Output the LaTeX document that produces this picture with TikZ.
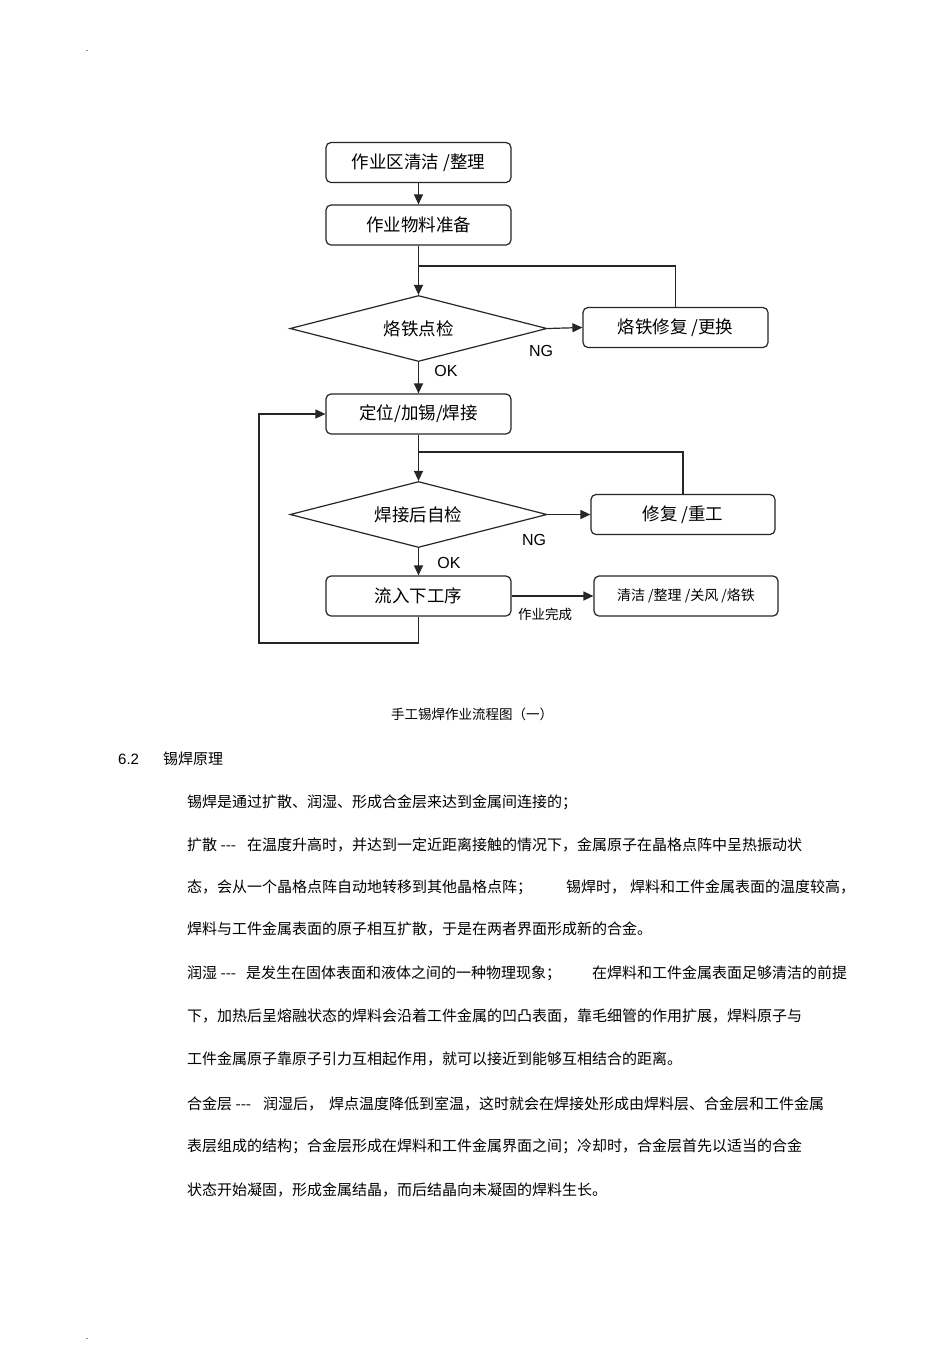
\documentclass[tikz,border=0pt]{standalone}
\usepackage{fontspec}
\setmainfont{Liberation Sans}
\newfontfamily\cjk{Noto Sans CJK SC}
\usetikzlibrary{arrows.meta,shapes.geometric}
\begin{document}
\begin{tikzpicture}[x=1pt,y=-1pt,
  box/.style={draw=black!85, line width=1.2pt, rounded corners=5pt, minimum width=185pt, minimum height=40pt, inner sep=0pt, font=\cjk\fontsize{17.5}{18}\selectfont},
  dia/.style={draw=black!85, line width=1.2pt, diamond, aspect=3.9, minimum width=257pt, minimum height=66pt, inner sep=0pt, font=\cjk\fontsize{17.5}{18}\selectfont},
  conn/.style={line width=1.2pt, draw=black!85},
  arr/.style={conn, -{Triangle[length=10pt,width=9pt]}},
  lbl/.style={inner sep=0pt, font=\fontsize{16}{16}\selectfont},
  small/.style={inner sep=0pt, font=\cjk\fontsize{13.5}{14}\selectfont},
  body/.style={anchor=west, inner sep=0pt, font=\cjk\fontsize{15}{15}\selectfont},
]
\useasboundingbox (0,0) rectangle (950,1345);
\fill[white] (0,0) rectangle (950,1345);
\node[inner sep=0pt, font=\fontsize{9}{9}\selectfont] (dot1) at (87,51) {.};
\node[inner sep=0pt, font=\fontsize{9}{9}\selectfont] (dot2) at (87,1339) {.};

% flowchart
\node[box] (b1) at (418.5,162.5) {作业区清洁 /整理};
\node[box] (b2) at (418.5,225) {作业物料准备};
\node[dia] (d1) at (418.5,328.5) {烙铁点检};
\node[box] (b3) at (675.5,327.5) {烙铁修复 /更换};
\node[box] (b4) at (418.5,414) {定位/加锡/焊接};
\node[dia] (d2) at (418.5,514.5) {焊接后自检};
\node[box, minimum width=184pt] (b5) at (683,514.5) {修复 /重工};
\node[box] (b6) at (418.5,596) {流入下工序};
\node[box, minimum width=184pt, font=\cjk\fontsize{14}{14}\selectfont] (b7) at (686,596) {清洁 /整理 /关风 /烙铁};

\node[lbl] (ng1) at (541,351) {NG};
\node[lbl] (ok1) at (446,371) {OK};
\node[lbl] (ng2) at (534,540) {NG};
\node[lbl] (ok2) at (449,563) {OK};
\node[small] (done) at (545,614) {作业完成};

\coordinate (j1) at (418.5,266);
\coordinate (j2) at (418.5,452);
\coordinate (c1) at (259,643);

\draw[arr] (b1) -- (b2);
\draw[arr] (b2) -- (d1.north);
\draw[arr] (d1.east) -- (b3.west);
\draw[conn] (b3.north) |- (j1);
\draw[arr] (d1.south) -- (b4.north);
\draw[arr] (b4.south) -- (d2.north);
\draw[arr] (d2.east) -- (b5.west);
\draw[conn] (b5.north) |- (j2);
\draw[arr] (d2.south) -- (b6.north);
\draw[arr] (b6.east) -- (b7.west);
\draw[arr] (b6.south) |- (c1) |- (b4.west);

% caption and text
\node[inner sep=0pt, font=\cjk\fontsize{13.5}{14}\selectfont] (cap) at (472,714) {手工锡焊作业流程图（一）};
\node[anchor=west, inner sep=0pt, font=\fontsize{15}{15}\selectfont] (sec) at (118,759) {6.2};
\node[body] (sect) at (163,759) {锡焊原理};

\node[body] (l1) at (187,802) {锡焊是通过扩散、润湿、形成合金层来达到金属间连接的；};
\node[body] (l2a) at (187,845) {扩散 ---};
\node[body] (l2b) at (247,845) {在温度升高时，并达到一定近距离接触的情况下，金属原子在晶格点阵中呈热振动状};
\node[body] (l3a) at (187,887) {态，会从一个晶格点阵自动地转移到其他晶格点阵；};
\node[body] (l3b) at (566,887) {锡焊时，};
\node[body] (l3c) at (630,887) {焊料和工件金属表面的温度较高，};
\node[body] (l4) at (187,929) {焊料与工件金属表面的原子相互扩散，于是在两者界面形成新的合金。};
\node[body] (l5a) at (187,973) {润湿 ---};
\node[body] (l5b) at (246,973) {是发生在固体表面和液体之间的一种物理现象；};
\node[body] (l5c) at (592,973) {在焊料和工件金属表面足够清洁的前提};
\node[body] (l6) at (187,1016) {下，加热后呈熔融状态的焊料会沿着工件金属的凹凸表面，靠毛细管的作用扩展，焊料原子与};
\node[body] (l7) at (187,1059) {工件金属原子靠原子引力互相起作用，就可以接近到能够互相结合的距离。};
\node[body] (l8a) at (187,1104) {合金层 ---};
\node[body] (l8b) at (263,1104) {润湿后，};
\node[body] (l8c) at (329,1104) {焊点温度降低到室温，这时就会在焊接处形成由焊料层、合金层和工件金属};
\node[body] (l9) at (187,1146) {表层组成的结构；合金层形成在焊料和工件金属界面之间；冷却时，合金层首先以适当的合金};
\node[body] (l10) at (187,1190) {状态开始凝固，形成金属结晶，而后结晶向未凝固的焊料生长。};
\end{tikzpicture}
\end{document}
